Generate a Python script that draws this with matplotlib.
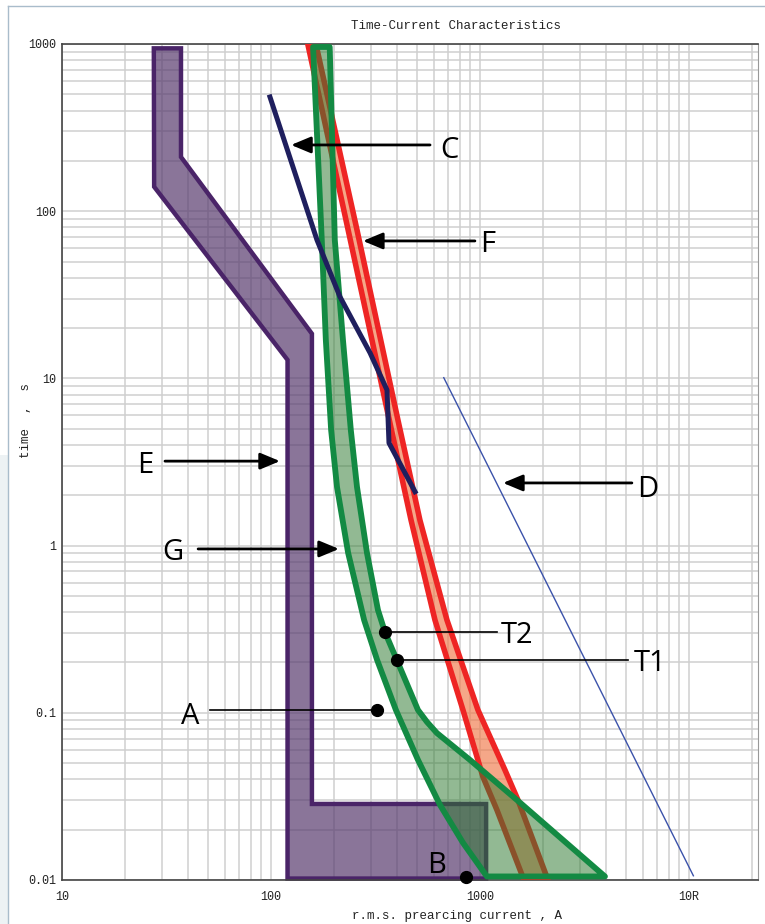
import matplotlib
matplotlib.use('Agg')
import matplotlib.pyplot as plt
from matplotlib.colors import to_rgba
from matplotlib.lines import Line2D
from matplotlib.patches import Rectangle
from matplotlib.ticker import FixedLocator, NullFormatter

# --- data (current in A, time in s) ---
# E: purple band (closed outline)
e_x = [27.5, 37.1, 37.1, 157, 157, 1070, 1070, 120, 120, 27.6]
e_y = [942, 942, 211, 18.5, 0.0285, 0.0285, 0.0102, 0.0102, 12.9, 140]

# F: red band, left and right edges
f_left_x = [150, 234, 351, 468, 609, 829, 1034, 1206, 1624]
f_left_y = [1000, 77.2, 7.43, 1.42, 0.359, 0.104, 0.0413, 0.0262, 0.0100]
f_right_x = [164, 258, 405, 516, 695, 978, 1317, 1520, 2115]
f_right_y = [1000, 77.2, 5.64, 1.42, 0.359, 0.104, 0.0455, 0.0301, 0.0100]

# G: green band, left and right edges
g_left_x = [159, 175, 183, 194, 207, 234, 279, 322, 396, 505, 644, 829, 1079]
g_left_y = [960, 67.3, 17.0, 4.91, 2.24, 0.904, 0.359, 0.207, 0.104, 0.0523,
            0.0281, 0.0167, 0.0105]
g_right_x = [191, 202, 221, 241, 258, 288, 325, 351, 400, 505, 558, 622, 895,
             1503, 3963]
g_right_y = [960, 67.3, 17.0, 4.91, 2.24, 0.904, 0.412, 0.304, 0.207, 0.104,
             0.0881, 0.0757, 0.0523, 0.0301, 0.0105]

# C: navy curve
c_x = [98.9, 166, 214, 298, 359, 367, 489]
c_y = [482, 67.3, 30.7, 14.2, 8.53, 4.11, 2.10]

# D: thin blue line
d_x = [671, 10500]
d_y = [10.1, 0.0106]

# arrow labels: name, text x, text baseline y, arrow tail x, arrow tip x, arrow y
arrow_names = ['C', 'F', 'E', 'D', 'G']
arrow_text_x = [711, 1092, 24.9, 6368, 34.0]
arrow_text_y = [208, 57.0, 2.72, 1.955, 0.820]
arrow_tail_x = [577, 946, 31.1, 5333, 44.8]
arrow_tip_x = [124.8, 275.5, 110.4, 1289, 211.5]
arrow_y = [249, 66.4, 3.2, 2.37, 0.955]

# point labels: name, dot x, dot y, text x, text baseline y, leader end x
point_names = ['T2', 'T1', 'A', 'B']
point_x = [351, 400, 321, 857]
point_y = [0.304, 0.207, 0.104, 0.0104]
point_text_x = [1503, 6500, 40.9, 622]
point_text_y = [0.261, 0.178, 0.0857, 0.0110]
point_line_x = [1205, 5105, 51.0, None]

x_ticks = [10, 100, 1000, 10000]
x_tick_labels = ['10', '100', '1000', '10R']
y_ticks = [0.01, 0.1, 1, 10, 100, 1000]
y_tick_labels = ['0.01', '0.1', '1', '10', '100', '1000']

W, H = 765, 924
fig = plt.figure(figsize=(W / 100, H / 100), dpi=100)
ax = fig.add_axes([62 / W, 44 / H, 696 / W, 836 / H])
ax.set_xscale('log')
ax.set_yscale('log')
ax.set_xlim(10, 21400)
ax.set_ylim(0.01, 1000)

ax.set_axisbelow(True)
ax.grid(which='both', color='#cfcfcf', lw=1.1)
ax.xaxis.set_major_locator(FixedLocator(x_ticks))
ax.yaxis.set_major_locator(FixedLocator(y_ticks))
ax.set_xticklabels(x_tick_labels)
ax.set_yticklabels(y_tick_labels)
ax.xaxis.set_minor_formatter(NullFormatter())
ax.yaxis.set_minor_formatter(NullFormatter())
ax.tick_params(which='both', length=0, labelsize=8.5, colors='#222222')
ax.tick_params(axis='x', pad=8)
ax.tick_params(axis='y', pad=4)
for lab in ax.get_xticklabels() + ax.get_yticklabels():
    lab.set_family('Liberation Mono')
for s in ['left', 'bottom', 'top']:
    ax.spines[s].set_color('#444444')
    ax.spines[s].set_linewidth(1.2)
ax.spines['right'].set_color('#999999')
ax.spines['right'].set_linewidth(0.8)

# E band
ax.fill(e_x, e_y, facecolor=to_rgba('#583b6e', 0.7), edgecolor='#4a2468',
        lw=3.2, joinstyle='miter', zorder=2, clip_on=False)

# F band
ax.fill(f_left_x + f_right_x[::-1], f_left_y + f_right_y[::-1],
        facecolor=to_rgba('#f07848', 0.65), edgecolor='#ee2524', lw=4,
        joinstyle='round', zorder=3)

# G band
ax.fill(g_left_x + g_right_x[::-1], g_left_y + g_right_y[::-1],
        facecolor=to_rgba('#2f7a30', 0.52), edgecolor='#138a43', lw=4.2,
        joinstyle='round', zorder=4, clip_on=False)

# C and D
ax.plot(c_x, c_y, color='#1f1f5e', lw=3.6, zorder=5, solid_joinstyle='round')
ax.plot(d_x, d_y, color='#3b52aa', lw=1.0, zorder=5)

label_font = dict(family=['Open Sans', 'DejaVu Sans'], fontsize=21,
                  color='black', ha='center', va='baseline')

for i, name in enumerate(arrow_names):
    ax.annotate('', xy=(arrow_tip_x[i], arrow_y[i]),
                xytext=(arrow_tail_x[i], arrow_y[i]),
                arrowprops=dict(arrowstyle='-|>,head_length=0.6,head_width=0.25',
                                color='black', lw=2.0, shrinkA=0, shrinkB=0,
                                mutation_scale=20),
                zorder=6)
    ax.text(arrow_text_x[i], arrow_text_y[i], name, zorder=6, **label_font)

for i, name in enumerate(point_names):
    if point_line_x[i] is not None:
        ax.plot([point_x[i], point_line_x[i]], [point_y[i], point_y[i]],
                color='black', lw=1.2, zorder=6)
    ax.plot(point_x[i], point_y[i], 'o', color='black', ms=8.5, zorder=7,
            clip_on=False)
    ax.text(point_text_x[i], point_text_y[i], name, zorder=6, **label_font)

mono = dict(family='Liberation Mono', fontsize=9, color='#222222')
fig.text(351 / W, 1 - 26 / H, 'Time-Current Characteristics', ha='left',
         va='center', **mono)
fig.text(352 / W, 1 - 916 / H, 'r.m.s. prearcing current , A', ha='left',
         va='center', **mono)
fig.text(26 / W, 1 - 421 / H, 'time  ,  s', rotation=90, ha='center',
         va='center', **mono)

# outer frame of the screenshot
fig.patches.append(Rectangle((0, 0), 8 / W, 1 - 455 / H, transform=fig.transFigure,
                             facecolor='#edf2f4', edgecolor='none'))
fig.lines.append(Line2D([8 / W, 1], [1 - 6 / H, 1 - 6 / H], transform=fig.transFigure,
                        color='#a9bccb', lw=1))
fig.lines.append(Line2D([8 / W, 8 / W], [0, 1 - 6 / H], transform=fig.transFigure,
                        color='#a9bccb', lw=1))

fig.savefig('out.png', dpi=100)
